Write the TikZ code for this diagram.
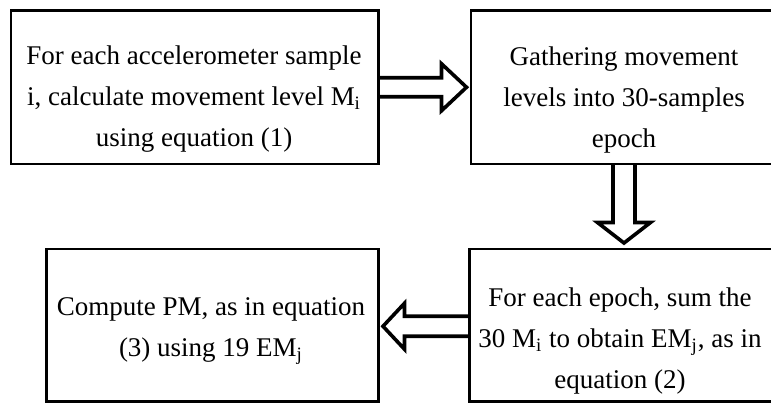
\documentclass[tikz,border=0pt]{standalone}
\usepackage{fontspec}
\setmainfont{Liberation Serif}
\usetikzlibrary{calc}
\begin{document}
\begin{tikzpicture}[x=0.5pt,y=-0.5pt,
  box/.style={draw, line width=1.35pt, rectangle, inner sep=0pt, outer sep=0pt},
  txt/.style={align=center, inner sep=0pt, font=\fontsize{13.5pt}{20.3pt}\selectfont},
  blk/.style={draw, line width=1.8pt, miter limit=10}]
\clip (0,0) rectangle (771,403);
\fill[white] (0,0) rectangle (771,403);
% boxes
\node[box, minimum width=183.75pt, minimum height=76.75pt] (b1) at (194.75,87.25) {};
\node[box, minimum width=153pt, minimum height=76.75pt] (b2) at (624,87.25) {};
\node[box, minimum width=152.75pt, minimum height=76.25pt] (b3) at (622.25,325.25) {};
\node[box, minimum width=166pt, minimum height=76.25pt] (b4) at (212.5,325.25) {};
% texts
\node[txt] (t1) at (194,99) {For each accelerometer sample\\ i, calculate movement level M\textsubscript{i}\\ using equation (1)};
\node[txt] (t2) at (624,100) {Gathering movement\\ levels into 30-samples\\ epoch};
\node[txt] (t3) at (620,341) {For each epoch, sum the\\ 30 M\textsubscript{i} to obtain EM\textsubscript{j}, as in\\ equation (2)};
\node[txt] (t4) at (211,331) {Compute PM, as in equation\\ (3) using 19 EM\textsubscript{j}};
% block arrows
\draw[blk] ($(b1.east)+(0,-9.5)$) -- ($(b1.east)+(63,-9.5)$) -- ($(b1.east)+(63,-23.5)$)
  -- ($(b1.east)+(88,0)$) -- ($(b1.east)+(63,23.5)$) -- ($(b1.east)+(63,9.5)$) -- ($(b1.east)+(0,9.5)$);
\draw[blk] ($(b2.south)+(-11,0)$) -- ($(b2.south)+(-11,58.5)$) -- ($(b2.south)+(-26.5,58.5)$)
  -- ($(b2.south)+(0,79)$) -- ($(b2.south)+(26.5,58.5)$) -- ($(b2.south)+(11,58.5)$) -- ($(b2.south)+(11,0)$);
\draw[blk] ($(b3.west)+(0,-9)$) -- ($(b3.west)+(-65,-9)$) -- ($(b3.west)+(-65,-22)$)
  -- ($(b3.west)+(-86.5,1)$) -- ($(b3.west)+(-65,24)$) -- ($(b3.west)+(-65,11)$) -- ($(b3.west)+(0,11)$);
\end{tikzpicture}
\end{document}
